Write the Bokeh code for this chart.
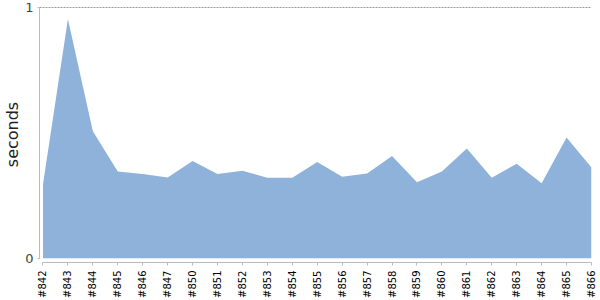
from math import pi
from bokeh.plotting import figure
from bokeh.models import ColumnDataSource, FixedTicker, Range1d
from bokeh.embed import file_html
from bokeh.resources import INLINE

builds = ["#842", "#843", "#844", "#845", "#846", "#847", "#850", "#851", "#852",
          "#853", "#854", "#855", "#856", "#857", "#858", "#859", "#860", "#861",
          "#862", "#863", "#864", "#865", "#866"]
seconds = [0.295, 0.954, 0.506, 0.346, 0.336, 0.322, 0.388, 0.336, 0.349,
           0.321, 0.321, 0.384, 0.325, 0.338, 0.408, 0.303, 0.346, 0.438,
           0.321, 0.377, 0.299, 0.482, 0.362]
y_ticks = [0, 1]

idx = list(range(len(builds)))
src = ColumnDataSource(dict(x=idx, y=seconds, build=builds))

p = figure(width=600, height=300, output_backend="svg", toolbar_location=None,
           x_range=Range1d(-0.14, len(builds) - 1),
           y_range=Range1d(-0.017, 1.004),
           min_border_left=30, min_border_right=9, min_border_top=6, min_border_bottom=37)
p.outline_line_color = None
p.background_fill_color = "white"
p.border_fill_color = "white"

p.varea(x="x", y1=0, y2="y", source=src, fill_color="#8FB2DA")

# grid: only dashed line at the top
p.xgrid.grid_line_color = None
p.ygrid.ticker = FixedTicker(ticks=[1])
p.ygrid.grid_line_color = "#999999"
p.ygrid.grid_line_dash = "2 1"
p.ygrid.grid_line_width = 1

# y axis
p.yaxis.ticker = FixedTicker(ticks=y_ticks)
p.yaxis.bounds = (0, 1)
p.yaxis.axis_label = "seconds"
p.yaxis.axis_label_text_font = "DejaVu Sans"
p.yaxis.axis_label_text_font_size = "16px"
p.yaxis.axis_label_text_font_style = "normal"
p.yaxis.axis_label_text_color = "#222222"
p.yaxis.axis_label_standoff = 0
p.yaxis.axis_line_color = "#BBBBBB"
p.yaxis.major_tick_line_color = "#BBBBBB"
p.yaxis.major_tick_out = 2
p.yaxis.major_tick_in = 0
p.yaxis.minor_tick_line_color = None
p.yaxis.major_label_standoff = 4
p.yaxis.major_label_text_font = "DejaVu Sans"
p.yaxis.major_label_text_font_size = "13px"
p.yaxis.major_label_text_color = "#444444"

# x axis
p.xaxis.ticker = FixedTicker(ticks=idx)
p.xaxis.major_label_overrides = {i: b for i, b in zip(idx, builds)}
p.xaxis.bounds = (0, len(builds) - 1)
p.xaxis.major_label_orientation = pi / 2
p.xaxis.axis_line_color = "#BBBBBB"
p.xaxis.major_tick_line_color = "#BBBBBB"
p.xaxis.major_tick_out = 3
p.xaxis.major_tick_in = 0
p.xaxis.minor_tick_line_color = None
p.xaxis.major_label_standoff = 5
p.xaxis.major_label_text_font = "DejaVu Sans"
p.xaxis.major_label_text_font_size = "10px"
p.xaxis.major_label_text_color = "#000000"

open("out.html", "w").write(file_html(p, INLINE))
